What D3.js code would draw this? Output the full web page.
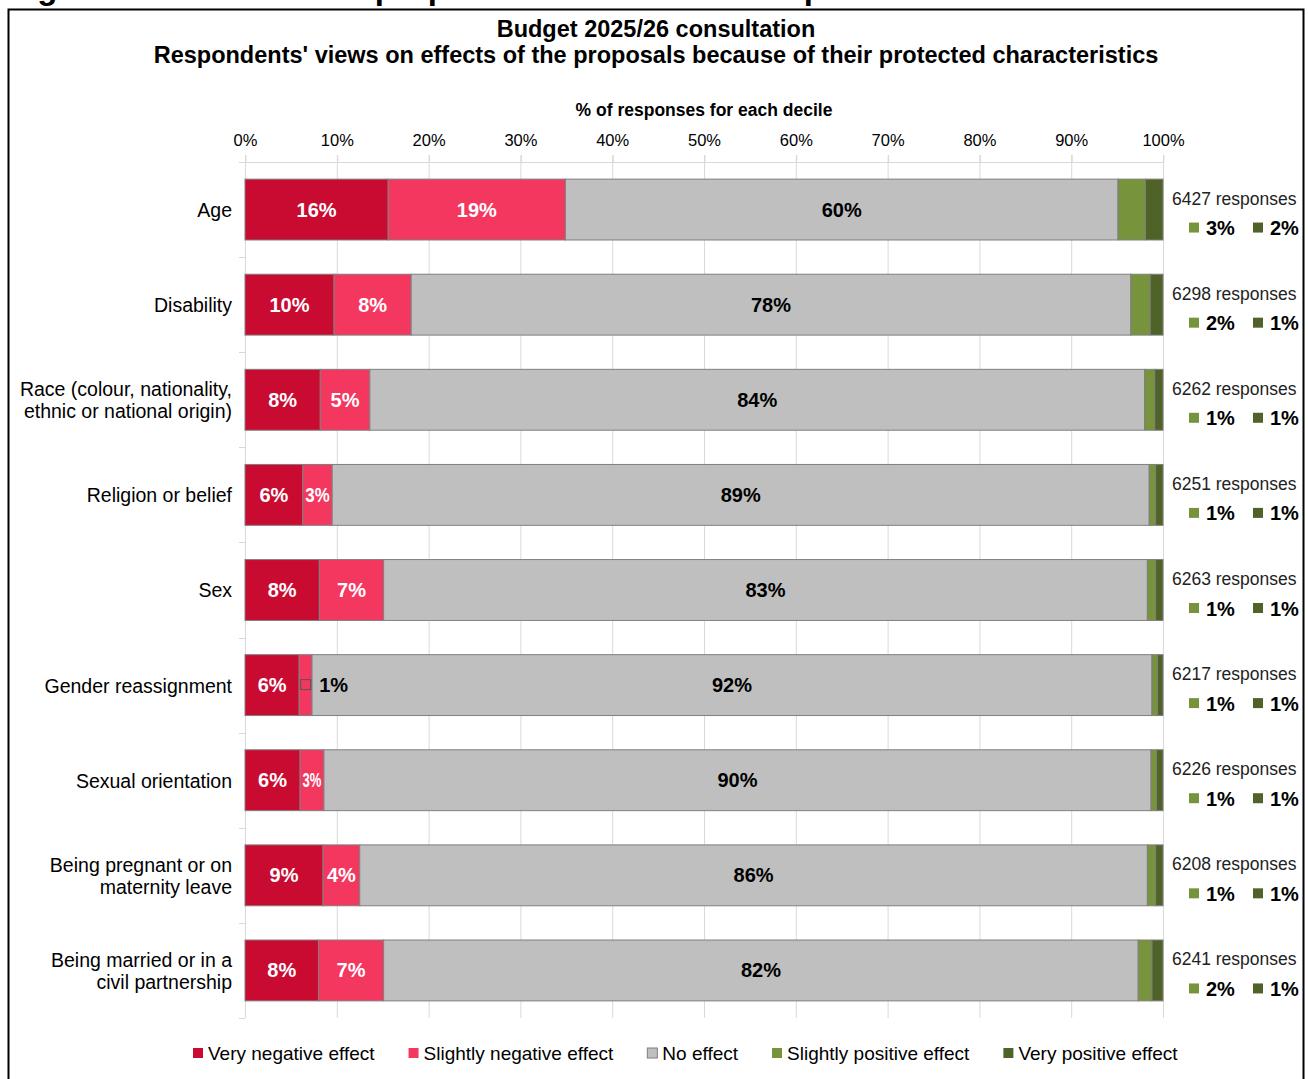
<!DOCTYPE html>
<html>
<head>
<meta charset="utf-8">
<script src="https://cdn.jsdelivr.net/npm/d3@7"></script>
<style>
  body { margin: 0; background: #fff; }
  svg { display: block; font-family: "Liberation Sans", Arial, sans-serif; }
</style>
</head>
<body>
<svg id="chart" width="1308" height="1079"></svg>
<script>
// Protected characteristics (a "|" marks a line break in the label)
const categories = [
  "Age",
  "Disability",
  "Race (colour, nationality,|ethnic or national origin)",
  "Religion or belief",
  "Sex",
  "Gender reassignment",
  "Sexual orientation",
  "Being pregnant or on|maternity leave",
  "Being married or in a|civil partnership"
];
const responses = [6427, 6298, 6262, 6251, 6263, 6217, 6226, 6208, 6241];

const seriesNames = ["Very negative effect", "Slightly negative effect", "No effect", "Slightly positive effect", "Very positive effect"];
const seriesColors = ["#C90A31", "#F4375F", "#BFBFBF", "#77933C", "#4F6228"];

// Share of responses (%) per category
const veryNegative     = [15.6,  9.7,  8.2,  6.3,  8.1,  5.9,  6.0,  8.5,  8.0];
const slightlyNegative = [19.3,  8.4,  5.4,  3.2,  7.0,  1.4,  2.6,  4.0,  7.1];
const noEffect         = [60.2, 78.4, 84.4, 89.0, 83.2, 91.5, 90.1, 85.8, 82.2];
const slightlyPositive = [ 3.0,  2.1,  1.1,  0.7,  0.9,  0.6,  0.6,  0.9,  1.5];
const veryPositive     = [ 1.9,  1.4,  0.9,  0.8,  0.8,  0.6,  0.7,  0.8,  1.2];

const xTicks = [0, 10, 20, 30, 40, 50, 60, 70, 80, 90, 100];

const seriesValues = [veryNegative, slightlyNegative, noEffect, slightlyPositive, veryPositive];
const keys = ["vn", "sn", "ne", "sp", "vp"];
const rows = categories.map((c, i) => {
  const r = { category: c, index: i };
  keys.forEach((k, j) => r[k] = seriesValues[j][i]);
  return r;
});
const pct = v => Math.round(v) + "%";

const svg = d3.select("#chart");
const FONT = '"Liberation Sans", Arial, sans-serif';

// Page heading running above the frame
svg.append("text")
  .attr("x", 8).attr("y", -1)
  .attr("font-size", 33).attr("font-weight", "bold")
  .text("Figure 6: Effects of the proposals because of their protected characteristics");

// Frame
svg.append("rect")
  .attr("x", 8.5).attr("y", 9.5).attr("width", 1295).attr("height", 1100)
  .attr("fill", "none").attr("stroke", "#000").attr("stroke-width", 2);

// Titles
svg.append("text").attr("x", 656).attr("y", 37).attr("text-anchor", "middle")
  .attr("font-size", 23.5).attr("font-weight", "bold").text("Budget 2025/26 consultation");
svg.append("text").attr("x", 656).attr("y", 63).attr("text-anchor", "middle")
  .attr("font-size", 23.5).attr("font-weight", "bold")
  .text("Respondents' views on effects of the proposals because of their protected characteristics");

// Scales
const x = d3.scaleLinear().domain([0, 100]).range([245, 1163]);
const y = d3.scaleBand().domain(d3.range(categories.length)).range([162, 1018])
  .paddingInner(0.36).paddingOuter(0.18);

// Vertical gridlines
svg.append("g").selectAll("line").data(xTicks).join("line")
  .attr("x1", d => x(d) + 0.5).attr("x2", d => x(d) + 0.5)
  .attr("y1", 155).attr("y2", 1018)
  .attr("stroke", "#D9D9D9").attr("stroke-width", 1);

// Top axis
const xAxis = svg.append("g").attr("transform", "translate(0,162)")
  .call(d3.axisTop(x).tickValues(xTicks).tickFormat(d => d + "%").tickSize(7).tickPadding(9).tickSizeOuter(0));
xAxis.select(".domain").remove();
xAxis.selectAll(".tick line").attr("stroke", "#D9D9D9").attr("transform", "translate(0.5,0)");
xAxis.selectAll(".tick text").attr("font-family", FONT).attr("font-size", 16.5).attr("fill", "#000");
svg.append("line").attr("x1", 239).attr("x2", 1163).attr("y1", 162.5).attr("y2", 162.5)
  .attr("stroke", "#D9D9D9");

svg.append("text").attr("x", (x(0) + x(100)) / 2).attr("y", 116).attr("text-anchor", "middle")
  .attr("font-size", 17.5).attr("font-weight", "bold").text("% of responses for each decile");

// Category separators on the left edge
const step = y.step();
const bounds = d3.range(categories.length + 1).map(i => y(0) - y.paddingOuter() * step + i * step);
svg.append("g").selectAll("line").data(bounds).join("line")
  .attr("x1", 239).attr("x2", 245).attr("y1", d => Math.round(d) + 0.5).attr("y2", d => Math.round(d) + 0.5)
  .attr("stroke", "#D9D9D9");

// Left axis with category labels
const yAxis = svg.append("g").attr("transform", "translate(245,0)")
  .call(d3.axisLeft(y).tickSize(0).tickPadding(13).tickFormat(i => categories[i]));
yAxis.select(".domain").remove();
yAxis.selectAll(".tick text").each(function (i) {
  const t = d3.select(this);
  const lines = categories[i].split("|");
  t.text(null).attr("font-family", FONT).attr("font-size", 19.5).attr("fill", "#000").attr("dy", null);
  lines.forEach((ln, k) => {
    t.append("tspan").attr("x", -13)
      .attr("dy", k === 0 ? ((0.38 - (lines.length - 1) * 0.57) + "em") : "1.14em")
      .text(ln);
  });
});

// Stacked bars
const stacked = d3.stack().keys(keys)(rows);
const layers = svg.append("g").selectAll("g").data(stacked).join("g")
  .attr("fill", (d, j) => seriesColors[j]);
layers.selectAll("rect").data(d => d).join("rect")
  .attr("x", d => x(d[0]))
  .attr("y", d => y(d.data.index))
  .attr("width", d => x(d[1]) - x(d[0]))
  .attr("height", y.bandwidth())
  .attr("stroke", "#7F7F7F").attr("stroke-width", 1);

// In-bar value labels for the negative and neutral segments
const labelG = svg.append("g");
stacked.slice(0, 3).forEach((layer, j) => {
  layer.forEach(d => {
    const x0 = x(d[0]), x1 = x(d[1]);
    const w = x1 - x0;
    const cy = y(d.data.index) + y.bandwidth() / 2;
    const val = d[1] - d[0];
    const fill = j === 2 ? "#000" : "#fff";
    const t = labelG.append("text")
      .attr("font-size", 20).attr("font-weight", "bold").attr("fill", fill)
      .attr("text-anchor", "middle").attr("x", (x0 + x1) / 2).attr("y", cy + 7)
      .text(pct(val));
    const tw = t.node().getComputedTextLength();
    if (tw > w - 4) {
      if (w >= 20) {
        // squeeze the label into the narrow segment
        t.attr("textLength", w - 5).attr("lengthAdjust", "spacingAndGlyphs");
      } else {
        // label with legend key placed beside the narrow segment
        t.attr("text-anchor", "start").attr("fill", "#000").attr("x", x0 + 20);
        labelG.append("rect")
          .attr("x", x0 + 1.5).attr("y", cy - 5.5).attr("width", 10).attr("height", 10)
          .attr("fill", seriesColors[j]).attr("stroke", "#555").attr("stroke-width", 1);
      }
    }
  });
});

// Right-hand notes: response counts and positive shares
const notes = svg.append("g").selectAll("g").data(rows).join("g")
  .attr("transform", d => `translate(1172,${y(d.index) + y.bandwidth() / 2})`);
notes.append("text").attr("x", 0).attr("y", -5).attr("font-size", 17.5).attr("fill", "#222")
  .text(d => responses[d.index] + " responses");
[["sp", 3, 17, 34], ["vp", 4, 81, 98]].forEach(([k, j, sx, tx]) => {
  notes.append("rect").attr("x", sx).attr("y", 13).attr("width", 10).attr("height", 10)
    .attr("fill", seriesColors[j]);
  notes.append("text").attr("x", tx).attr("y", 25.5).attr("font-size", 20).attr("font-weight", "bold")
    .text(d => pct(d[k]));
});

// Legend
const legend = svg.append("g").attr("transform", "translate(193,1053)");
let lx = 0;
seriesNames.forEach((name, j) => {
  const g = legend.append("g").attr("transform", `translate(${lx},0)`);
  g.append("rect").attr("x", 0).attr("y", -5).attr("width", 10).attr("height", 10)
    .attr("fill", seriesColors[j]).attr("stroke", j === 2 ? "#7F7F7F" : "none");
  const t = g.append("text").attr("x", 15).attr("y", 6.5).attr("font-size", 19).text(name);
  lx += 15 + t.node().getComputedTextLength() + 34;
});
</script>
</body>
</html>
